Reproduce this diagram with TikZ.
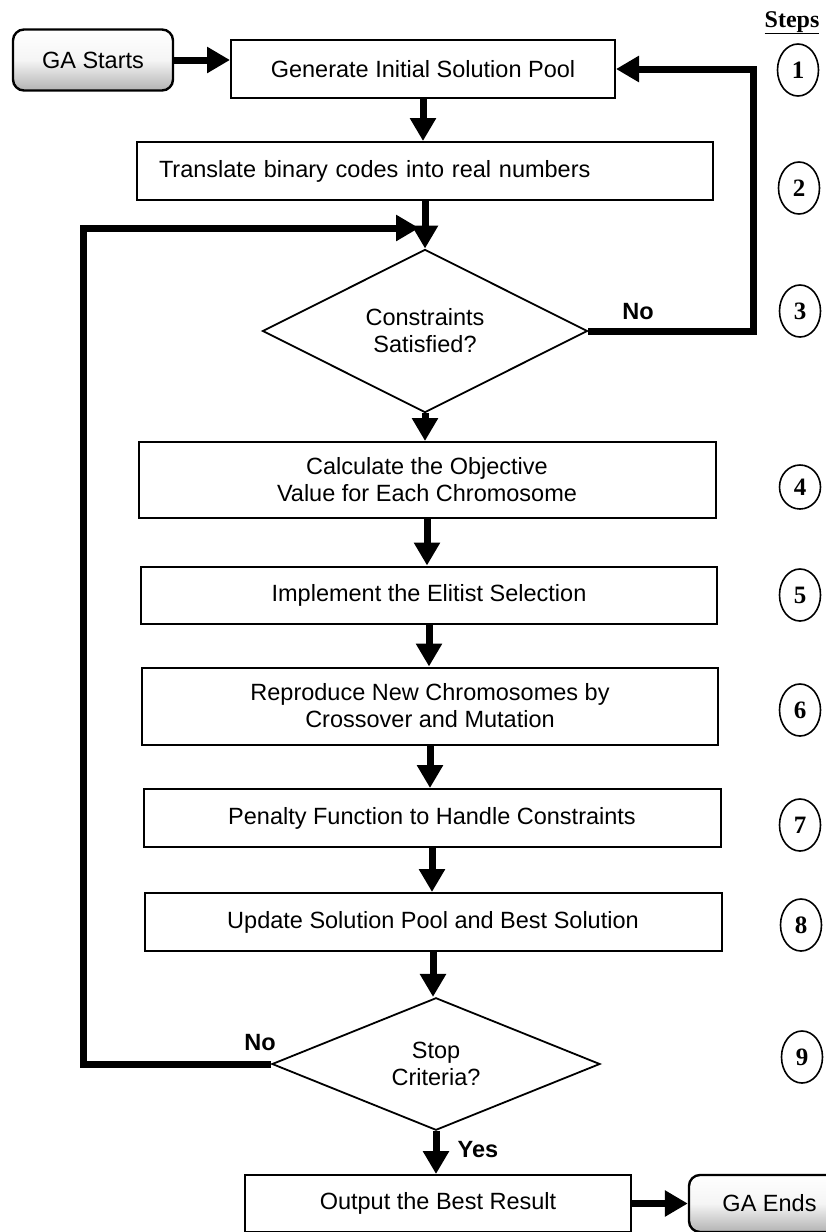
\documentclass[tikz,border=0pt]{standalone}
\usepackage{fontspec}
\setmainfont{Liberation Sans}
\newfontfamily\stepfont{Liberation Serif}
\usetikzlibrary{shapes.geometric,arrows.meta}
\begin{document}
\begin{tikzpicture}[x=1pt,y=-1pt,
  font=\fontsize{23.5}{27}\selectfont,
  procbox/.style={draw, line width=2pt, rectangle, inner sep=0pt, align=center},
  decision/.style={draw, line width=1.8pt, diamond, inner sep=0pt, align=center},
  terminal/.style={draw, line width=2.4pt, rounded corners=11pt, inner sep=0pt,
    top color=white, bottom color=black!30, middle color=black!4},
  stepnum/.style={draw, line width=1.6pt, ellipse, inner sep=0pt,
    minimum width=41pt, minimum height=52pt,
    font=\stepfont\bfseries\fontsize{25}{25}\selectfont},
  flow/.style={line width=7pt, -{Triangle[length=23pt,width=25pt]}},
  branch/.style={font=\bfseries\fontsize{23.5}{27}\selectfont}
]
\useasboundingbox (0,0) rectangle (825,1232);

% terminals and process boxes
\node[terminal, minimum width=160pt, minimum height=61pt] (start) at (93,60) {GA Starts};
\node[procbox, minimum width=384pt, minimum height=58pt] (gen) at (423,69) {Generate Initial Solution Pool};
\node[procbox, minimum height=58pt, text width=532pt, inner xsep=22pt, align=left] (trans) at (425,171) {Translate binary codes into real numbers};
\node[decision, minimum width=325pt, minimum height=134pt] (d1) at (425,331) {Constraints\\Satisfied?};
\node[procbox, minimum width=577pt, minimum height=76pt] (calc) at (427,480) {Calculate the Objective\\Value for Each Chromosome};
\node[procbox, minimum width=576pt, minimum height=57pt] (impl) at (429,595) {Implement the Elitist Selection};
\node[procbox, minimum width=576pt, minimum height=77pt] (repr) at (430,706) {Reproduce New Chromosomes by\\Crossover and Mutation};
\node[procbox, minimum width=577pt, minimum height=58pt] (pen) at (432,818) {Penalty Function to Handle Constraints};
\node[procbox, minimum width=577pt, minimum height=58pt] (upd) at (433,922) {Update Solution Pool and Best Solution};
\node[decision, minimum width=328pt, minimum height=132pt] (d2) at (436,1064) {Stop\\Criteria?};
\node[procbox, minimum width=386pt, minimum height=57pt] (out) at (438,1203.5) {Output the Best Result};
\node[terminal, minimum width=161pt, minimum height=57pt] (end) at (769.5,1203.5) {GA Ends};

% main flow
\draw[flow] (start.east) -- (start.east -| gen.west);
\draw[flow] (gen.south) -- (gen.south |- trans.north);
\draw[flow] (trans.south) -- (trans.south |- d1.north);
\draw[flow] (d1.south) -- (d1.south |- calc.north);
\draw[flow] (calc.south) -- (calc.south |- impl.north);
\draw[flow] (impl.south) -- (impl.south |- repr.north);
\draw[flow] (repr.south) -- (repr.south |- pen.north);
\draw[flow] (pen.south) -- (pen.south |- upd.north);
\draw[flow] (upd.south) -- (upd.south |- d2.north);
\draw[flow] (d2.south) -- (d2.south |- out.north);
\draw[flow] (out.east) -- (out.east -| end.west);

% feedback loops
\coordinate (retcorner) at (753,69);
\draw[flow] (d1.east) -| (retcorner) -- (gen.east);
\coordinate (loopcorner) at (83,228);
\coordinate (loopend) at (419,228);
\draw[flow] (d2.west) -| (loopcorner) -- (loopend);

% branch labels
\node[branch] (no1) at (638,312) {No};
\node[branch] (no2) at (260,1043) {No};
\node[branch] (yes) at (478,1150) {Yes};

% step markers
\node[font=\stepfont\bfseries\fontsize{24}{24}\selectfont, anchor=base] (stepshead) at (792,27) {\underline{Steps}};
\node[stepnum] (s1) at (798,70) {1};
\node[stepnum] (s2) at (799,188) {2};
\node[stepnum] (s3) at (800,311) {3};
\node[stepnum, minimum height=44pt] (s4) at (800,487) {4};
\node[stepnum] (s5) at (800,595) {5};
\node[stepnum] (s6) at (800,710) {6};
\node[stepnum] (s7) at (800,825) {7};
\node[stepnum] (s8) at (801,925) {8};
\node[stepnum] (s9) at (802,1057) {9};
\end{tikzpicture}
\end{document}
